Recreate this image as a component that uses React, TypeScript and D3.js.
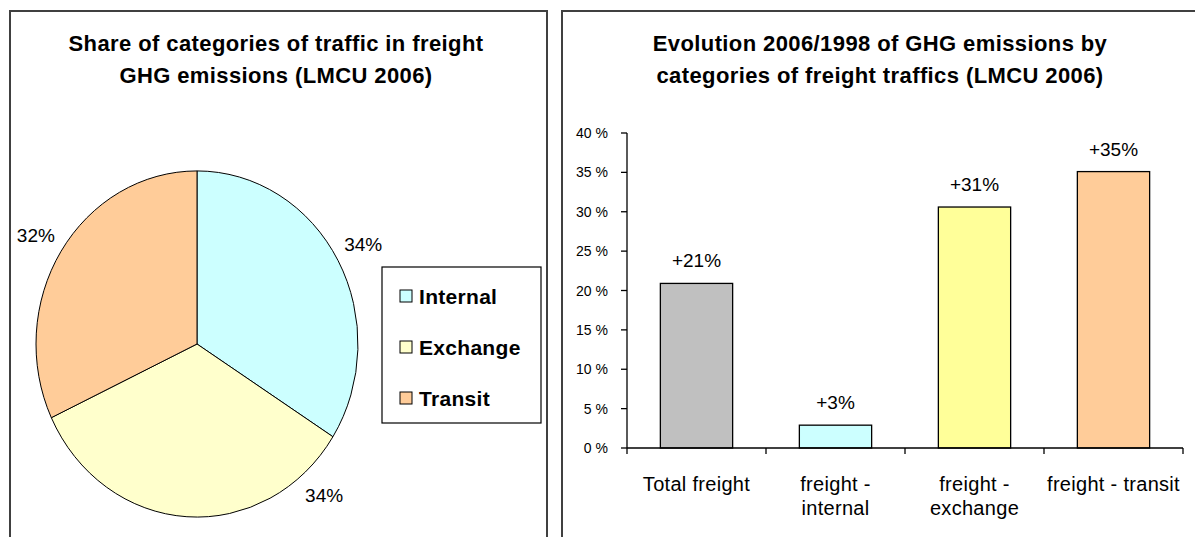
import React from 'react';
import * as d3 from 'd3';

// pie data
const pieCategories = ['Internal', 'Exchange', 'Transit'];
const pieValues = [34, 34, 32];
const pieColors = ['#CCFFFF', '#FFFFCC', '#FFCC99'];

// bar data
const barCategories = ['Total freight', 'freight - internal', 'freight - exchange', 'freight - transit'];
const barLabelLines = [['Total freight'], ['freight -', 'internal'], ['freight -', 'exchange'], ['freight - transit']];
const barValues = [20.9, 2.9, 30.6, 35.1];
const barValueLabels = ['+21%', '+3%', '+31%', '+35%'];
const barColors = ['#C0C0C0', '#CCFFFF', '#FFFF99', '#FFCC99'];
const yTicks = [0, 5, 10, 15, 20, 25, 30, 35, 40];

const font = '"Liberation Sans", Arial, sans-serif';

// Excel put the exchange label off its mid-angle
const labelAngleDeg = [61, 138, 302];

const App: React.FC = () => {
  const W = 1195;
  const H = 537;

  // ---- pie ----
  const cx = 197;
  const cy = 344;
  const r = 161;
  const yStretch = 1.075;
  const pie = d3.pie<number>().sort(null)(pieValues);
  const arc = d3.arc<d3.PieArcDatum<number>>().innerRadius(0).outerRadius(r);
  const labelR = 190;

  // ---- bars ----
  const x = d3.scaleBand<string>()
    .domain(barCategories)
    .range([627, 1183])
    .paddingInner(0.48)
    .paddingOuter(0.24);
  const y = d3.scaleLinear().domain([0, 40]).range([448, 133]);
  const step = x.step();
  const x0 = x.range()[0];
  const boundaries = d3.range(barCategories.length + 1).map(i => x0 + i * step);

  const titleProps = { textAnchor: 'middle' as const, fontSize: 22, fontWeight: 'bold', letterSpacing: 0.4 };

  return (
    <svg
      width={W}
      height={H}
      style={{ position: 'absolute', left: 0, top: 0, background: '#fff' }}
      fontFamily={font}
    >
      <rect x={0} y={0} width={W} height={H} fill="#fff" />

      {/* left panel */}
      <rect x={10} y={11} width={537} height={560} fill="none" stroke="#404040" strokeWidth={2} />
      <text x={276} y={51} {...titleProps}>
        Share of categories of traffic in freight
      </text>
      <text x={276} y={83} {...titleProps}>
        GHG emissions (LMCU 2006)
      </text>

      <g transform={`translate(${cx},${cy}) scale(1,${yStretch})`}>
        {pie.map((d, i) => (
          <path
            key={pieCategories[i]}
            d={arc(d) || ''}
            fill={pieColors[i]}
            stroke="#000"
            strokeWidth={1}
            vectorEffect="non-scaling-stroke"
          />
        ))}
      </g>
      {pie.map((d, i) => {
        const a = (labelAngleDeg[i] * Math.PI) / 180;
        return (
          <text
            key={'pl' + i}
            x={cx + labelR * Math.sin(a)}
            y={cy - labelR * Math.cos(a) * yStretch}
            textAnchor="middle"
            dominantBaseline="central"
            fontSize={19}
          >
            {Math.round(d.value)}%
          </text>
        );
      })}

      {/* legend */}
      <rect x={382} y={267} width={159} height={156} fill="#fff" stroke="#000" strokeWidth={1.2} />
      {pieCategories.map((c, i) => (
        <g key={c} transform={`translate(400,${296 + i * 51})`}>
          <rect x={0} y={-6} width={12} height={12} fill={pieColors[i]} stroke="#000" strokeWidth={1} />
          <text x={19} y={0} dominantBaseline="central" fontSize={21} fontWeight="bold" letterSpacing={0.3}>
            {c}
          </text>
        </g>
      ))}

      {/* right panel */}
      <rect x={562} y={11} width={636} height={560} fill="none" stroke="#404040" strokeWidth={2} />
      <text x={880} y={51} {...titleProps}>
        Evolution 2006/1998 of GHG emissions by
      </text>
      <text x={880} y={83} {...titleProps}>
        categories of freight traffics (LMCU 2006)
      </text>

      {/* y axis */}
      <line x1={x0} x2={x0} y1={y(40)} y2={y(0)} stroke="#000" strokeWidth={1.3} />
      {yTicks.map(t => (
        <g key={t}>
          <line x1={x0 - 6} x2={x0} y1={y(t)} y2={y(t)} stroke="#000" strokeWidth={1.3} />
          <text x={608} y={y(t)} textAnchor="end" dominantBaseline="central" fontSize={14}>
            {t} %
          </text>
        </g>
      ))}

      {/* bars */}
      {barCategories.map((c, i) => (
        <g key={c}>
          <rect
            x={x(c)}
            y={y(barValues[i])}
            width={x.bandwidth()}
            height={y(0) - y(barValues[i])}
            fill={barColors[i]}
            stroke="#000"
            strokeWidth={1.3}
          />
          <text
            x={(x(c) || 0) + x.bandwidth() / 2}
            y={y(barValues[i]) - 16}
            textAnchor="middle"
            fontSize={19}
          >
            {barValueLabels[i]}
          </text>
          {barLabelLines[i].map((line, j) => (
            <text
              key={j}
              x={(x(c) || 0) + x.bandwidth() / 2}
              y={491 + j * 24}
              textAnchor="middle"
              fontSize={20}
              letterSpacing={0.3}
            >
              {line}
            </text>
          ))}
        </g>
      ))}

      {/* x axis */}
      <line x1={x0} x2={x.range()[1]} y1={y(0)} y2={y(0)} stroke="#000" strokeWidth={1.3} />
      {boundaries.map((b, i) => (
        <line key={i} x1={b} x2={b} y1={y(0)} y2={y(0) + 6} stroke="#000" strokeWidth={1.3} />
      ))}
    </svg>
  );
};

export default App;
